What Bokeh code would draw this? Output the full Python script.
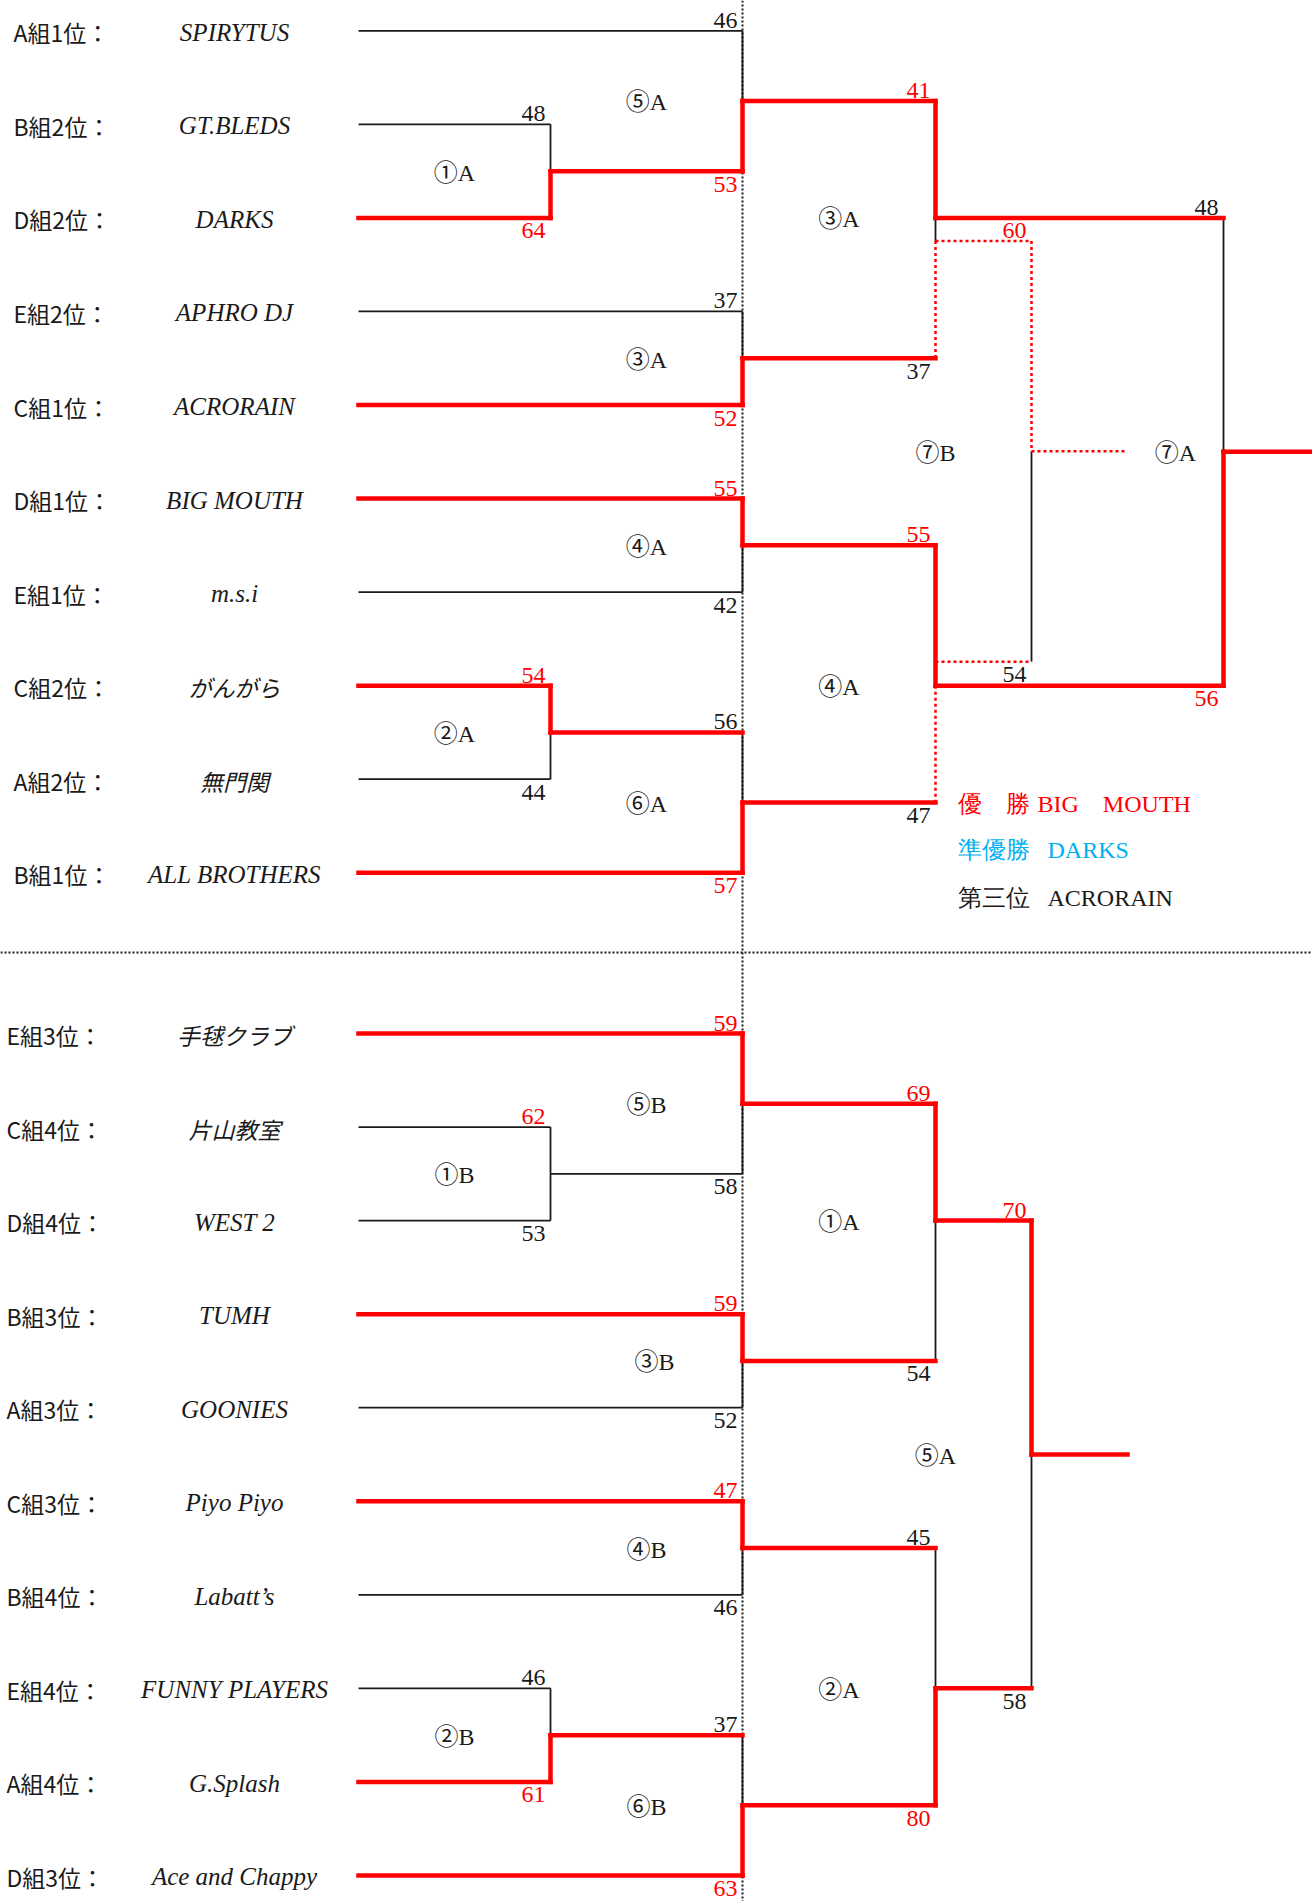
from bokeh.plotting import figure
from bokeh.models import Range1d, ColumnDataSource
from bokeh.core.properties import value
from bokeh.embed import file_html
from bokeh.resources import INLINE

# ---------------- data ----------------
top_groups = ["A組1位：", "B組2位：", "D組2位：", "E組2位：", "C組1位：",
              "D組1位：", "E組1位：", "C組2位：", "A組2位：", "B組1位："]
top_teams = ["SPIRYTUS", "GT.BLEDS", "DARKS", "APHRO DJ", "ACRORAIN",
             "BIG MOUTH", "m.s.i", "がんがら", "無門関", "ALL BROTHERS"]
bottom_groups = ["E組3位：", "C組4位：", "D組4位：", "B組3位：", "A組3位：",
                 "C組3位：", "B組4位：", "E組4位：", "A組4位：", "D組3位："]
bottom_teams = ["手毬クラブ", "片山教室", "WEST 2", "TUMH", "GOONIES",
                "Piyo Piyo", "Labatt’s", "FUNNY PLAYERS", "G.Splash", "Ace and Chappy"]

# match results: label, score of the upper entrant, score of the lower entrant
top_match_labels = ["①A", "②A", "⑤A", "③A", "④A", "⑥A", "③A", "④A", "⑦B", "⑦A"]
top_upper_scores = [48, 54, 46, 37, 55, 56, 41, 55, 60, 48]
top_lower_scores = [64, 44, 53, 52, 42, 57, 37, 47, 54, 56]

bottom_match_labels = ["①B", "②B", "⑤B", "③B", "④B", "⑥B", "①A", "②A", "⑤A"]
bottom_upper_scores = [62, 46, 59, 59, 47, 37, 69, 45, 70]
bottom_lower_scores = [53, 61, 58, 52, 46, 63, 54, 80, 58]

standings_titles = ["優　勝", "準優勝", "第三位"]
standings_teams = ["BIG　MOUTH", "DARKS", "ACRORAIN"]

# ---------------- layout ----------------
X0, X1, X2, X3, X4, X5, X6, XR = 358, 550, 742, 935, 1031, 1127, 1223, 1320
TOP_Y0, BOT_Y0, PITCH = 30.3, 1033.0, 93.55
DIV_X, DIV_Y = 742, 952
RED = "#FF0000"
BLUE = "#00B0F0"
INK = "#1a1a1a"

top_shape = [
    dict(up=("row", 1), lo=("row", 2), x=X1, out="mid", hl="red", lab=(X0 + X1) / 2),
    dict(up=("row", 7), lo=("row", 8), x=X1, out="mid", hl="red", lab=(X0 + X1) / 2),
    dict(up=("row", 0), lo=("m", 0), x=X2, out="mid", hl="red", lab=(X1 + X2) / 2),
    dict(up=("row", 3), lo=("row", 4), x=X2, out="mid", hl="red", lab=(X1 + X2) / 2),
    dict(up=("row", 5), lo=("row", 6), x=X2, out="mid", hl="red", lab=(X1 + X2) / 2),
    dict(up=("m", 1), lo=("row", 9), x=X2, out="mid", hl="red", lab=(X1 + X2) / 2),
    dict(up=("m", 2), lo=("m", 3), x=X3, out=("row", 2), hl="red", lab=(X2 + X3) / 2, third=23),
    dict(up=("m", 4), lo=("m", 5), x=X3, out=("row", 7), hl="red", lab=(X2 + X3) / 2, third=-24),
    dict(up=("loser", 6), lo=("loser", 7), x=X4, out="mid", hl="dot", lab=X3, end=X5),
    dict(up=("m", 6), lo=("m", 7), x=X6, out="mid", hl="red", lab=(X5 + X6) / 2, end=XR),
]
bottom_shape = [
    dict(up=("row", 1), lo=("row", 2), x=X1, out="mid", hl="black", lab=(X0 + X1) / 2),
    dict(up=("row", 7), lo=("row", 8), x=X1, out="mid", hl="red", lab=(X0 + X1) / 2),
    dict(up=("row", 0), lo=("m", 0), x=X2, out="mid", hl="red", lab=(X1 + X2) / 2),
    dict(up=("row", 3), lo=("row", 4), x=X2, out="mid", hl="red", lab=(X1 + X2) / 2 + 8),
    dict(up=("row", 5), lo=("row", 6), x=X2, out="mid", hl="red", lab=(X1 + X2) / 2),
    dict(up=("m", 1), lo=("row", 9), x=X2, out="mid", hl="red", lab=(X1 + X2) / 2),
    dict(up=("m", 2), lo=("m", 3), x=X3, out=("row", 2), hl="red", lab=(X2 + X3) / 2),
    dict(up=("m", 4), lo=("m", 5), x=X3, out=("row", 7), hl="red", lab=(X2 + X3) / 2),
    dict(up=("m", 6), lo=("m", 7), x=X4, out="mid", hl="red", lab=X3, end=X5),
]

segs = {"black": [], "red": [], "dot": []}
scores = dict(x=[], y=[], text=[], color=[])
labels = dict(x=[], y=[], text=[])


def add(style, x0, y0, x1, y1):
    segs[style].append((x0, y0, x1, y1))


def build(shape, y0, names, ups, los):
    row = lambda i: y0 + PITCH * i
    out_y = {}
    for k, s in enumerate(shape):
        upper_wins = ups[k] > los[k]
        ends = []
        for side, ref in (("up", s["up"]), ("lo", s["lo"])):
            kind, j = ref
            won = (side == "up") == upper_wins
            if kind == "row":
                sx, sy = X0, row(j)
                style = s["hl"] if won else "black"
            elif kind == "m":
                sx, sy = shape[j]["x"], out_y[j]
                style = shape[j]["hl"]
            else:  # loser of a semi-final goes to the 3rd-place match
                sx, sy = shape[j]["x"], out_y[j] + shape[j]["third"]
                style = "dot"
            add(style, sx, sy, s["x"], sy)
            ends.append(sy)
        yu, yl = ends
        oy = (yu + yl) / 2 if s["out"] == "mid" else row(s["out"][1])
        out_y[k] = oy
        wy, ly = (yu, yl) if upper_wins else (yl, yu)
        add(s["hl"], s["x"], wy, s["x"], oy)
        if "third" in s:
            y3 = oy + s["third"]
            lo_, hi_ = min(oy, ly), max(oy, ly)
            y3c = min(max(y3, lo_), hi_)
            if y3c != oy:
                add("black", s["x"], oy, s["x"], y3c)
            add("dot", s["x"], y3c, s["x"], ly)
        else:
            add("black", s["x"], oy, s["x"], ly)
        if "end" in s:
            add(s["hl"], s["x"], oy, s["end"], oy)
        # scores (above the upper line, below the lower line)
        scores["x"] += [s["x"] - 5, s["x"] - 5]
        scores["y"] += [yu - 10.5, yl + 13]
        scores["text"] += [str(ups[k]), str(los[k])]
        scores["color"] += [RED if upper_wins else INK, INK if upper_wins else RED]
        labels["x"].append(s["lab"])
        labels["y"].append(oy + 1.5)
        labels["text"].append(names[k])


build(top_shape, TOP_Y0, top_match_labels, top_upper_scores, top_lower_scores)
build(bottom_shape, BOT_Y0, bottom_match_labels, bottom_upper_scores, bottom_lower_scores)

# ---------------- figure ----------------
W, H = 1312, 1901
p = figure(width=W, height=H, x_range=Range1d(0, W), y_range=Range1d(H, 0),
           output_backend="svg", toolbar_location=None, min_border=0)
p.axis.visible = False
p.grid.visible = False
p.outline_line_color = None
p.background_fill_color = "white"
p.border_fill_color = "white"

# dotted dividers
p.segment(x0=[DIV_X, 0], y0=[0, DIV_Y], x1=[DIV_X, 1320], y1=[1910, DIV_Y],
          line_color=INK, line_width=2, line_dash="2 2")


def seg_src(style):
    L = segs[style]
    return ColumnDataSource(dict(x0=[a[0] for a in L], y0=[a[1] for a in L],
                                 x1=[a[2] for a in L], y1=[a[3] for a in L]))


p.segment("x0", "y0", "x1", "y1", source=seg_src("black"), line_color=INK, line_width=1.8)
p.segment("x0", "y0", "x1", "y1", source=seg_src("dot"), line_color=RED, line_width=2.5, line_dash="3 3")
p.segment("x0", "y0", "x1", "y1", source=seg_src("red"), line_color=RED, line_width=4.5, line_cap="square")


def is_cjk(t):
    return any(ord(c) > 0x2E80 for c in t)


# team rows
for groups, teams, y0, gx in ((top_groups, top_teams, TOP_Y0, 13), (bottom_groups, bottom_teams, BOT_Y0, 6)):
    ys = [y0 + PITCH * i + 1.5 for i in range(len(teams))]
    p.text(x=[gx] * len(groups), y=ys, text=groups, text_font=value("Noto Sans CJK JP"),
           text_font_size="23px", text_color=INK, text_baseline="middle", text_align="left")
    src = ColumnDataSource(dict(
        x=[234] * len(teams), y=ys, text=teams,
        font=["Noto Sans CJK JP" if is_cjk(t) else "Liberation Serif" for t in teams],
        size=["23px" if is_cjk(t) else "25px" for t in teams]))
    p.text("x", "y", text="text", source=src, text_font="font", text_font_size="size",
           text_font_style="italic", text_color=INK, text_baseline="middle", text_align="center")

# scores
p.text("x", "y", text="text", source=ColumnDataSource(scores), text_color="color",
       text_font=value("Liberation Serif"), text_font_size="24px",
       text_baseline="middle", text_align="right")

# match labels (circled digits come from the CJK font)
p.text("x", "y", text="text", source=ColumnDataSource(labels), text_color=INK,
       text_font=value("Liberation Serif, Noto Sans CJK JP"), text_font_size="24px",
       text_baseline="middle", text_align="center")

# standings
st_colors = [RED, BLUE, INK]
st_y = [803.5, 849.5, 897.5]
p.text(x=[957] * 3, y=st_y, text=standings_titles, text_color=st_colors,
       text_font=value("Liberation Serif"), text_font_size="24px",
       text_baseline="middle", text_align="left")
p.text(x=[1037, 1047, 1047], y=st_y, text=standings_teams, text_color=st_colors,
       text_font=value("Liberation Serif"), text_font_size="24px",
       text_baseline="middle", text_align="left")

open("out.html", "w", encoding="utf-8").write(file_html(p, INLINE))
